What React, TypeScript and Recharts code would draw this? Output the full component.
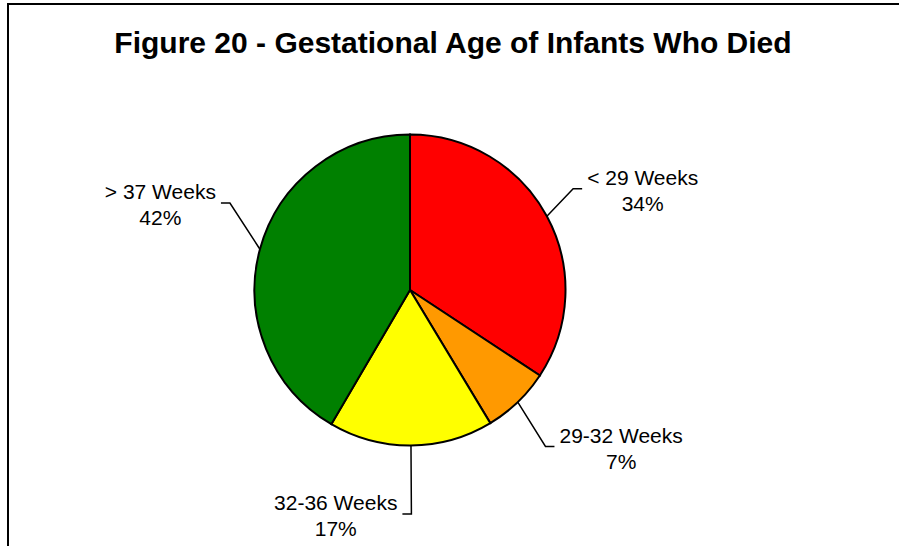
import React from 'react';
import { PieChart, Pie, Cell } from 'recharts';

const categories = ['< 29 Weeks', '29-32 Weeks', '32-36 Weeks', '> 37 Weeks'];
const shares = [34.3, 7.1, 17.1, 41.6];
const sliceColors = ['#FF0000', '#FF9900', '#FFFF00', '#008000'];

// leader-line layout (annotation styling): elbow radius, angular nudge, side
const leaderRadius = [192, 207, 224, 200];
const leaderNudge = [3.5, -3, 0, -10.6];
const leaderSide = [1, 1, -1, -1];

const data = categories.map((name, i) => ({ name, value: shares[i] }));

const FONT = '"Liberation Sans", Arial, Helvetica, sans-serif';
const LABEL_SIZE = 21;
const RAD = Math.PI / 180;

let ctx: CanvasRenderingContext2D | null = null;
function measure(text: string): number {
  if (!ctx) ctx = document.createElement('canvas').getContext('2d');
  if (!ctx) return text.length * LABEL_SIZE * 0.55;
  ctx.font = `${LABEL_SIZE}px ${FONT}`;
  return ctx.measureText(text).width;
}

function renderLabel(props: any) {
  const { cx, cy, midAngle, outerRadius, percent, index } = props;
  const name = categories[index];
  const sx = cx + outerRadius * Math.cos(-midAngle * RAD);
  const sy = cy + outerRadius * Math.sin(-midAngle * RAD);
  const a2 = midAngle + leaderNudge[index];
  const ex = cx + leaderRadius[index] * Math.cos(-a2 * RAD);
  const ey = cy + leaderRadius[index] * Math.sin(-a2 * RAD);
  const side = leaderSide[index];
  const hx = ex + side * 9;
  const tx = hx + side * 5;
  const w = measure(name);
  const centerX = side > 0 ? tx + w / 2 : tx - w / 2;
  const line1Y = ey - 11;
  const line2Y = line1Y + 26;
  return (
    <g key={`lbl-${index}`}>
      <polyline
        points={`${sx},${sy} ${ex},${ey} ${hx},${ey}`}
        fill="none"
        stroke="#000"
        strokeWidth={1.5}
      />
      <text
        x={centerX}
        y={line1Y}
        textAnchor="middle"
        dominantBaseline="central"
        fontFamily={FONT}
        fontSize={LABEL_SIZE}
        fill="#000"
      >
        {name}
      </text>
      <text
        x={centerX}
        y={line2Y}
        textAnchor="middle"
        dominantBaseline="central"
        fontFamily={FONT}
        fontSize={LABEL_SIZE}
        fill="#000"
      >
        {`${Math.round(percent * 100)}%`}
      </text>
    </g>
  );
}

export default function App() {
  return (
    <div style={{ position: 'absolute', left: 0, top: 0, width: 899, height: 546, background: '#fff', overflow: 'hidden' }}>
      <div
        style={{
          position: 'absolute',
          left: 7,
          top: 3,
          width: 892,
          height: 543,
          borderTop: '2px solid #000',
          borderLeft: '2px solid #000',
          boxSizing: 'border-box',
        }}
      />
      <div
        style={{
          position: 'absolute',
          left: 0,
          top: 28,
          width: 906,
          textAlign: 'center',
          fontFamily: FONT,
          fontWeight: 'bold',
          fontSize: 30,
          lineHeight: '30px',
          color: '#000',
          whiteSpace: 'nowrap',
        }}
      >
        Figure 20 - Gestational Age of Infants Who Died
      </div>
      <div style={{ position: 'absolute', left: 0, top: 0 }}>
        <PieChart width={899} height={546} margin={{ top: 0, right: 0, bottom: 0, left: 0 }}>
          <Pie
            data={data}
            dataKey="value"
            nameKey="name"
            cx={410}
            cy={290}
            outerRadius={155.5}
            startAngle={90}
            endAngle={-270}
            stroke="#000"
            strokeWidth={2}
            label={renderLabel}
            labelLine={false}
            isAnimationActive={false}
          >
            {data.map((d, i) => (
              <Cell key={d.name} fill={sliceColors[i]} stroke="#000" strokeWidth={2} />
            ))}
          </Pie>
        </PieChart>
      </div>
    </div>
  );
}
